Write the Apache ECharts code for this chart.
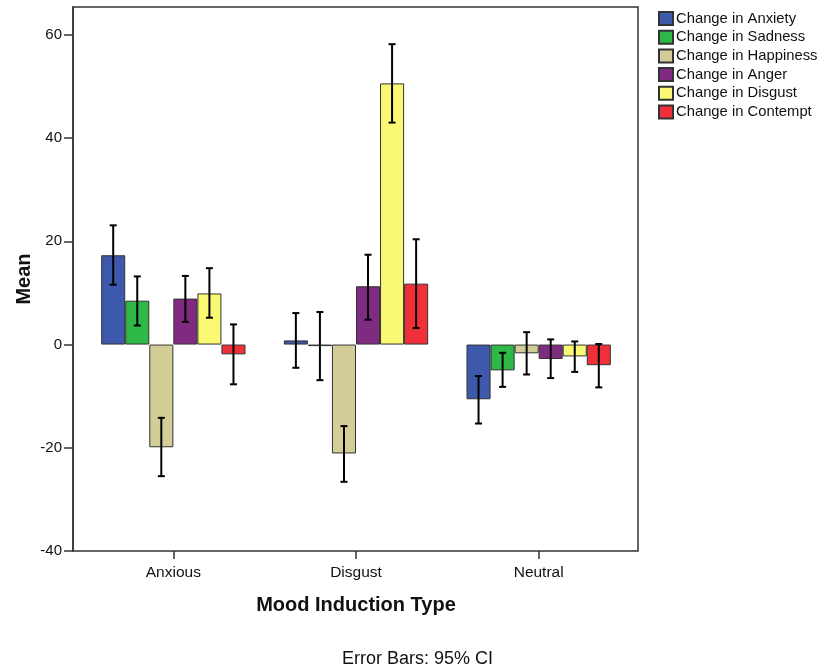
<!DOCTYPE html>
<html>
<head>
<meta charset="utf-8">
<script src="https://cdn.jsdelivr.net/npm/echarts@6/dist/echarts.min.js"></script>
<style>
  html, body { margin: 0; padding: 0; background: #fff; }
  #chart { width: 826px; height: 672px; }
</style>
</head>
<body>
<div id="chart"></div>
<script>
var categories = ['Anxious', 'Disgust', 'Neutral'];
var seriesNames = ['Change in Anxiety', 'Change in Sadness', 'Change in Happiness',
                   'Change in Anger', 'Change in Disgust', 'Change in Contempt'];
var colors = ['#3e58ac', '#2eb848', '#d3ce97', '#7f2b81', '#fbf873', '#ef3038'];

// means per series (Anxious, Disgust, Neutral)
var anxiety   = [17.3,  0.8, -10.6];
var sadness   = [ 8.5, -0.3,  -5.0];
var happiness = [-19.9, -21.1, -1.7];
var anger     = [ 8.9, 11.3,  -2.8];
var disgust   = [ 9.9, 50.6,  -2.3];
var contempt  = [-1.9, 11.8,  -4.0];

// 95% CI bounds
var anxietyLow    = [11.6, -4.5, -15.3];
var anxietyHigh   = [23.1,  6.1,  -6.1];
var sadnessLow    = [ 3.7, -6.9,  -8.2];
var sadnessHigh   = [13.2,  6.3,  -1.6];
var happinessLow  = [-25.5, -26.6, -5.8];
var happinessHigh = [-14.2, -15.8,  2.4];
var angerLow      = [ 4.4,  4.8,  -6.5];
var angerHigh     = [13.3, 17.4,   1.0];
var disgustLow    = [ 5.2, 43.0,  -5.3];
var disgustHigh   = [14.8, 58.2,   0.6];
var contemptLow   = [-7.7,  3.2,  -8.3];
var contemptHigh  = [ 3.9, 20.4,   0.1];

var yTicks = [-40, -20, 0, 20, 40, 60];

var means = [anxiety, sadness, happiness, anger, disgust, contempt];
var lows = [anxietyLow, sadnessLow, happinessLow, angerLow, disgustLow, contemptLow];
var highs = [anxietyHigh, sadnessHigh, happinessHigh, angerHigh, disgustHigh, contemptHigh];

var CAT_GAP = 0.21;
var font = 'Liberation Sans, Arial, sans-serif';

var errData = [];
for (var s = 0; s < 6; s++) {
    for (var c = 0; c < categories.length; c++) {
        errData.push([c, lows[s][c], highs[s][c], s]);
    }
}

var series = seriesNames.map(function (name, i) {
    return {
        name: name,
        type: 'bar',
        data: means[i],
        barGap: '0%',
        barCategoryGap: (CAT_GAP * 100) + '%',
        itemStyle: { color: colors[i], borderColor: '#333', borderWidth: 1 },
        emphasis: { disabled: true }
    };
});

series.push({
    type: 'custom',
    name: 'ci',
    data: errData,
    z: 10,
    renderItem: function (params, api) {
        var band = api.size([1, 0])[0];
        var bw = band * (1 - CAT_GAP) / 6;
        var idx = api.value(3);
        var lo = api.coord([api.value(0), api.value(1)]);
        var hi = api.coord([api.value(0), api.value(2)]);
        var x = lo[0] + (idx - 2.5) * bw;
        var cap = 3.5;
        var st = { stroke: '#000', lineWidth: 2 };
        return {
            type: 'group',
            children: [
                { type: 'line', shape: { x1: x, y1: lo[1], x2: x, y2: hi[1] }, style: st },
                { type: 'line', shape: { x1: x - cap, y1: lo[1], x2: x + cap, y2: lo[1] }, style: st },
                { type: 'line', shape: { x1: x - cap, y1: hi[1], x2: x + cap, y2: hi[1] }, style: st }
            ]
        };
    }
});

var chart = echarts.init(document.getElementById('chart'));
chart.setOption({
    animation: false,
    textStyle: { fontFamily: font },
    grid: { left: 82, right: 196, top: 7, bottom: 121 },
    legend: {
        data: seriesNames,
        orient: 'vertical',
        left: 658,
        top: 11,
        padding: 0,
        icon: 'rect',
        itemWidth: 14,
        itemHeight: 13,
        itemGap: 3.7,
        selectedMode: false,
        textStyle: { fontSize: 14.8, color: '#111', fontFamily: font, padding: [0, 0, 0, -2] }
    },
    xAxis: {
        type: 'category',
        data: categories,
        name: 'Mood Induction Type',
        nameLocation: 'middle',
        nameGap: 44,
        nameMoveOverlap: false,
        nameTextStyle: { fontSize: 20, fontWeight: 'bold', color: '#111' },
        axisLine: { show: false, onZero: false },
        axisTick: { show: true, alignWithLabel: true, length: 8, lineStyle: { color: '#333', width: 1.5 } },
        axisLabel: { fontSize: 15.5, color: '#111', margin: 14 },
        splitLine: { show: false }
    },
    yAxis: {
        type: 'value',
        min: -40,
        max: 65.4,
        interval: 20,
        offset: 9,
        name: 'Mean',
        nameLocation: 'middle',
        nameGap: 39,
        nameMoveOverlap: false,
        nameTextStyle: { fontSize: 20, fontWeight: 'bold', color: '#111' },
        axisLine: { show: true, lineStyle: { color: '#333', width: 1.5 } },
        axisTick: { show: true, length: 9, customValues: yTicks, lineStyle: { color: '#333', width: 1.5 } },
        axisLabel: { fontSize: 15, color: '#111', margin: 11, customValues: yTicks },
        splitLine: { show: false }
    },
    graphic: [
        {
            type: 'rect',
            shape: { x: 73, y: 7, width: 565, height: 544 },
            style: { fill: null, stroke: '#333', lineWidth: 1.5 },
            z: 100
        },
        {
            type: 'text',
            left: 342,
            top: 650,
            style: { text: 'Error Bars: 95% CI', fontSize: 18, fill: '#111', fontFamily: font }
        }
    ],
    series: series
});
</script>
</body>
</html>
